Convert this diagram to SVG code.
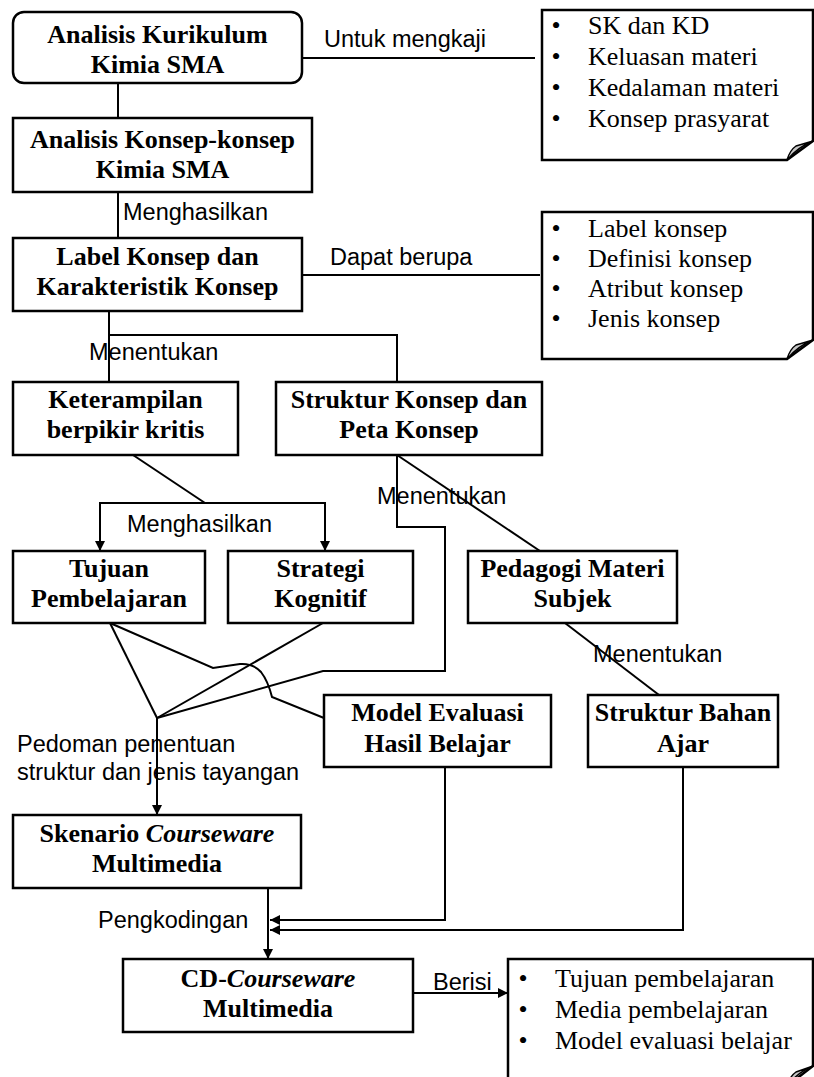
<svg xmlns="http://www.w3.org/2000/svg" width="814" height="1077" viewBox="0 0 814 1077">
<style>
.box{fill:#fff;stroke:#000;stroke-width:2.5}
.nt{font-family:"Liberation Serif","Times New Roman",serif;font-weight:bold;font-size:26px;text-anchor:middle;fill:#000}
.lb{font-family:"Liberation Sans",Arial,sans-serif;font-size:23.5px;fill:#000}
.li{font-family:"Liberation Serif","Times New Roman",serif;font-size:26px;fill:#000}
.bu{font-family:"Liberation Serif","Times New Roman",serif;font-size:26px;fill:#000;text-anchor:middle}
.cn{fill:none;stroke:#000;stroke-width:2}
.note{fill:#fff;stroke:#000;stroke-width:2.5;stroke-linejoin:miter}
.flap{fill:#c8c8c8;stroke:#000;stroke-width:1.5;stroke-linejoin:round}
</style>
<defs>
<marker id="ah" viewBox="0 0 10 10" refX="10" refY="5" markerWidth="10" markerHeight="10" markerUnits="userSpaceOnUse" orient="auto"><path d="M0,0 L10,5 L0,10 Z" fill="#000"/></marker>
</defs>
<rect width="814" height="1077" fill="#fff"/>

<g id="connectors">
<path class="cn" d="M118,83 V118"/>
<path class="cn" d="M302,58 H535"/>
<path class="cn" d="M118,192 V238"/>
<path class="cn" d="M302,275 H540"/>
<path class="cn" d="M109,311 V382"/>
<path class="cn" d="M109,335 H397 V382"/>
<path class="cn" d="M133,455 L205,503"/>
<path class="cn" d="M205,503 H100 V551" marker-end="url(#ah)"/>
<path class="cn" d="M205,503 H325 V551" marker-end="url(#ah)"/>
<path class="cn" d="M397,455 V527 H445 V671 H323 L157,718"/>
<path class="cn" d="M397,455 L540,551"/>
<path class="cn" d="M565,623 L659,695"/>
<path class="cn" d="M110,623 L157,718"/>
<path class="cn" d="M323,623 L157,718"/>
<path class="cn" d="M110,623 L213,668 L240,664 Q253,663 261,672 Q268,681 272,697 L324,718"/>
<path class="cn" d="M157,718 V815" marker-end="url(#ah)"/>
<path class="cn" d="M268,888 V959" marker-end="url(#ah)"/>
<path class="cn" d="M445,767 V920 H270" marker-end="url(#ah)"/>
<path class="cn" d="M683,767 V930 H270" marker-end="url(#ah)"/>
<path class="cn" d="M413,993 H508" marker-end="url(#ah)"/>
</g>

<g id="labels">
<text class="lb" x="324" y="47">Untuk mengkaji</text>
<text class="lb" x="123" y="220">Menghasilkan</text>
<text class="lb" x="330" y="265">Dapat berupa</text>
<text class="lb" x="89" y="360">Menentukan</text>
<text class="lb" x="377" y="504">Menentukan</text>
<text class="lb" x="127" y="532">Menghasilkan</text>
<text class="lb" x="593" y="662">Menentukan</text>
<text class="lb" x="17" y="752">Pedoman penentuan</text>
<text class="lb" x="17" y="780">struktur dan jenis tayangan</text>
<text class="lb" x="98" y="928">Pengkodingan</text>
<text class="lb" x="433" y="990">Berisi</text>
</g>

<g id="n1">
<rect class="box" x="13" y="12" width="289" height="71" rx="11"/>
<text class="nt" x="157.5" y="43">Analisis Kurikulum</text>
<text class="nt" x="157.5" y="73">Kimia SMA</text>
</g>
<g id="n2">
<rect class="box" x="13" y="118" width="299" height="74"/>
<text class="nt" x="162.5" y="148">Analisis Konsep-konsep</text>
<text class="nt" x="162.5" y="178">Kimia SMA</text>
</g>
<g id="n3">
<rect class="box" x="13" y="238" width="289" height="73"/>
<text class="nt" x="157.5" y="265">Label Konsep dan</text>
<text class="nt" x="157.5" y="295">Karakteristik Konsep</text>
</g>
<g id="n4">
<rect class="box" x="13" y="382" width="225" height="73"/>
<text class="nt" x="125.5" y="408">Keterampilan</text>
<text class="nt" x="125.5" y="438">berpikir kritis</text>
</g>
<g id="n5">
<rect class="box" x="276" y="382" width="266" height="73"/>
<text class="nt" x="409" y="408">Struktur Konsep dan</text>
<text class="nt" x="409" y="438">Peta Konsep</text>
</g>
<g id="n6">
<rect class="box" x="13" y="551" width="192" height="72"/>
<text class="nt" x="109" y="577">Tujuan</text>
<text class="nt" x="109" y="607">Pembelajaran</text>
</g>
<g id="n7">
<rect class="box" x="228" y="551" width="185" height="72"/>
<text class="nt" x="320.5" y="577">Strategi</text>
<text class="nt" x="320.5" y="607">Kognitif</text>
</g>
<g id="n8">
<rect class="box" x="468" y="551" width="209" height="72"/>
<text class="nt" x="572.5" y="577">Pedagogi Materi</text>
<text class="nt" x="572.5" y="607">Subjek</text>
</g>
<g id="n9">
<rect class="box" x="324" y="695" width="227" height="72"/>
<text class="nt" x="437.5" y="721">Model Evaluasi</text>
<text class="nt" x="437.5" y="752">Hasil Belajar</text>
</g>
<g id="n10">
<rect class="box" x="588" y="695" width="190" height="72"/>
<text class="nt" x="683" y="721">Struktur Bahan</text>
<text class="nt" x="683" y="752">Ajar</text>
</g>
<g id="n11">
<rect class="box" x="13" y="815" width="288" height="73"/>
<text class="nt" x="157" y="842">Skenario <tspan font-style="italic">Courseware</tspan></text>
<text class="nt" x="157" y="872">Multimedia</text>
</g>
<g id="n12">
<rect class="box" x="123" y="959" width="290" height="73"/>
<text class="nt" x="268" y="987">CD-<tspan font-style="italic">Courseware</tspan></text>
<text class="nt" x="268" y="1017">Multimedia</text>
</g>

<g id="note1">
<path class="note" d="M542,10 H813 V141 L787,160 H542 Z"/>
<path class="flap" d="M787,160 Q790,150 796,146 L813,141 Q798,147 787,160 Z"/>
<text class="bu" x="556" y="34">•</text><text class="li" x="588" y="34">SK dan KD</text>
<text class="bu" x="556" y="65">•</text><text class="li" x="588" y="65">Keluasan materi</text>
<text class="bu" x="556" y="96">•</text><text class="li" x="588" y="96">Kedalaman materi</text>
<text class="bu" x="556" y="127">•</text><text class="li" x="588" y="127">Konsep prasyarat</text>
</g>
<g id="note2">
<path class="note" d="M542,212 H813 V340 L787,359 H542 Z"/>
<path class="flap" d="M787,359 Q790,349 796,345 L813,340 Q798,346 787,359 Z"/>
<text class="bu" x="556" y="237">•</text><text class="li" x="588" y="237">Label konsep</text>
<text class="bu" x="556" y="267">•</text><text class="li" x="588" y="267">Definisi konsep</text>
<text class="bu" x="556" y="297">•</text><text class="li" x="588" y="297">Atribut konsep</text>
<text class="bu" x="556" y="327">•</text><text class="li" x="588" y="327">Jenis konsep</text>
</g>
<g id="note3">
<path class="note" d="M508,959 H813 V1066 L787,1086 H508 Z"/>
<path class="flap" d="M787,1086 Q790,1076 796,1072 L813,1066 Q798,1072 787,1086 Z"/>
<text class="bu" x="523" y="987">•</text><text class="li" x="555" y="987">Tujuan pembelajaran</text>
<text class="bu" x="523" y="1018">•</text><text class="li" x="555" y="1018">Media pembelajaran</text>
<text class="bu" x="523" y="1049">•</text><text class="li" x="555" y="1049">Model evaluasi belajar</text>
</g>
</svg>
